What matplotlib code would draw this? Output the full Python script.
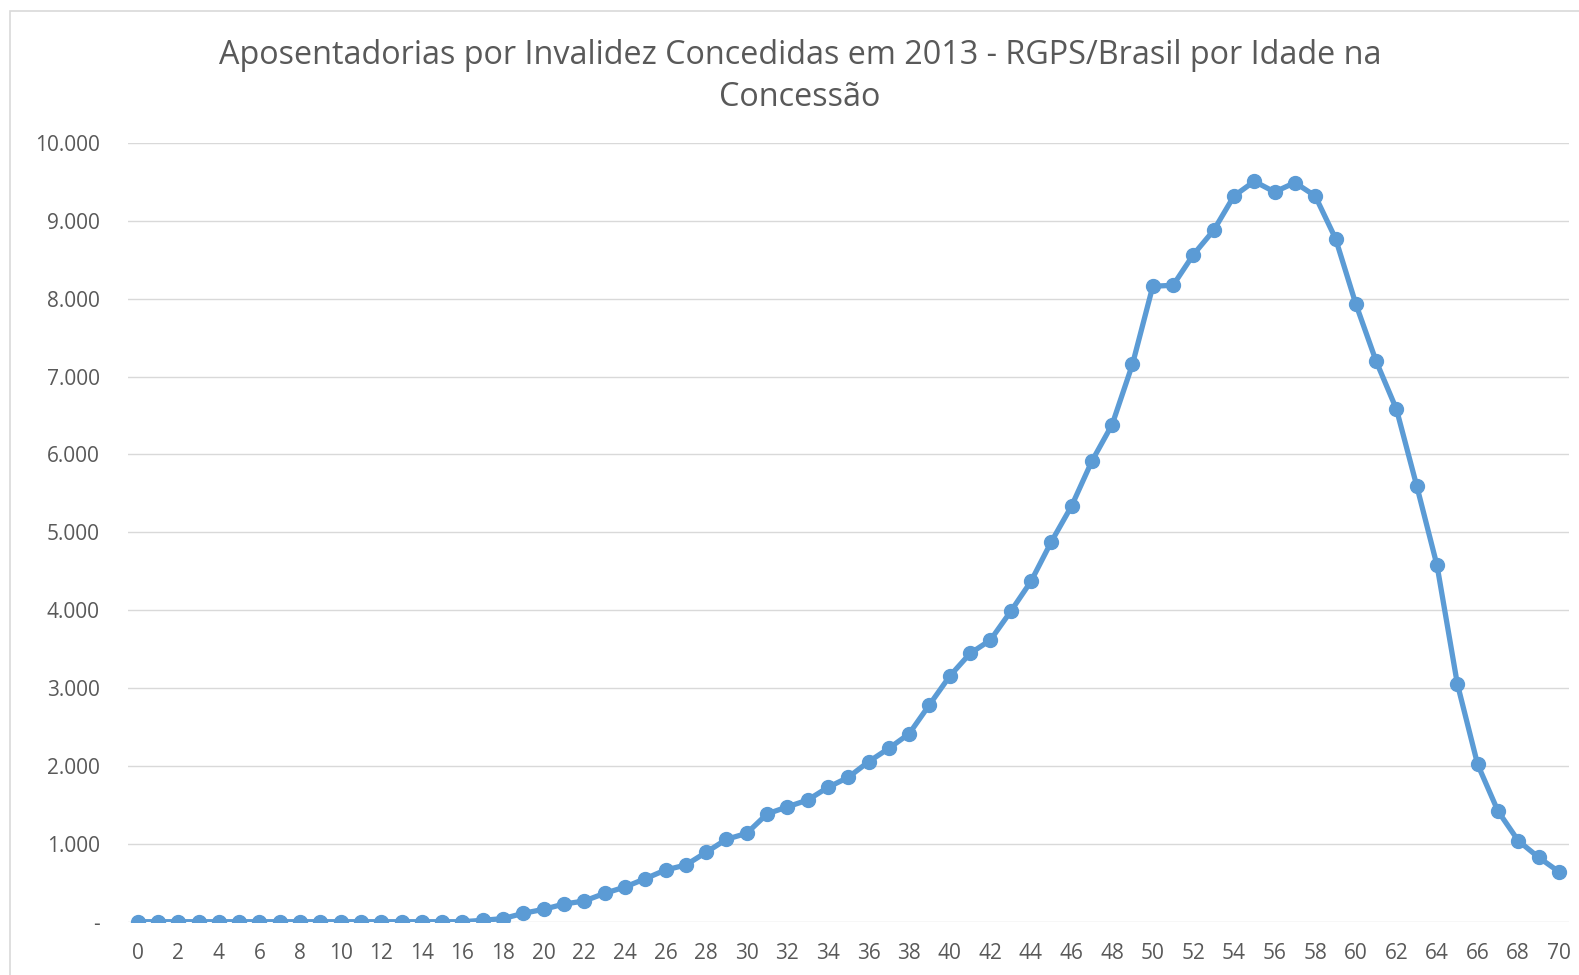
import numpy as np
import matplotlib.pyplot as plt
from matplotlib.patches import Rectangle
from matplotlib.ticker import FuncFormatter

plt.rcParams['font.family'] = ['Open Sans', 'DejaVu Sans']

# Idade na concessao (0..70) e quantidade de aposentadorias
idades = list(range(0, 71))
concedidas = [0, 0, 0, 0, 0, 0, 0, 0, 0, 0,
              0, 0, 0, 0, 0, 0, 0, 18, 40, 108,
              159, 227, 266, 364, 445, 552, 664, 728, 891, 1058,
              1135, 1384, 1475, 1562, 1725, 1854, 2054, 2226, 2414, 2786,
              3154, 3445, 3616, 3984, 4370, 4878, 5338, 5914, 6385, 7159,
              8160, 8173, 8567, 8879, 9320, 9508, 9371, 9491, 9320, 8773,
              7933, 7198, 6582, 5597, 4575, 3055, 2020, 1421, 1040, 827,
              642]
y_ticks = [0, 1000, 2000, 3000, 4000, 5000, 6000, 7000, 8000, 9000, 10000]
x_ticks = list(range(0, 71, 2))
titulo = "Aposentadorias por Invalidez Concedidas em 2013 - RGPS/Brasil por Idade na\nConcessão"

W, H = 1579, 975
fig = plt.figure(figsize=(W / 100, H / 100), dpi=100)

# moldura do grafico (cantos direito/inferior ficam fora da imagem)
fig.patches.append(Rectangle((10 / W, -0.05), 1.1, 1 - 11 / H + 0.05,
                             transform=fig.transFigure, fill=False,
                             edgecolor='#D9D9D9', linewidth=1.2))

ax = fig.add_axes([127.5 / W, 53.3 / H, (1569 - 127.5) / W, (921.7 - 143) / H])
ax.plot(idades, concedidas, color='#5B9BD5', linewidth=3.8,
        marker='o', markersize=10, zorder=3)

ax.set_xlim(-0.5, 70.5)
ax.set_ylim(0, 10000)
ax.set_xticks(x_ticks)
ax.set_yticks(y_ticks)


def fmt_milhar(v, pos):
    if v == 0:
        return '-'
    return f"{int(v):,}".replace(',', '.')


ax.yaxis.set_major_formatter(FuncFormatter(fmt_milhar))
ax.grid(axis='y', color='#D9D9D9', linewidth=1.0)
ax.set_axisbelow(True)
for s in ax.spines.values():
    s.set_visible(False)
ax.tick_params(axis='both', length=0, colors='#595959', labelsize=15)
ax.tick_params(axis='y', pad=20)
ax.tick_params(axis='x', pad=15)

fig.text(800 / W, 1 - 76 / H, titulo, ha='center', va='center',
         fontsize=23.3, color='#595959', linespacing=1.36)

fig.savefig('out.png', dpi=100)
